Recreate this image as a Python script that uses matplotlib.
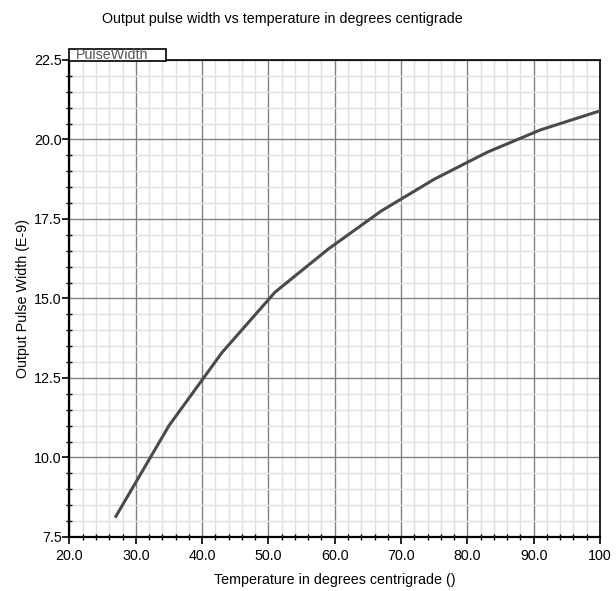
import numpy as np
import matplotlib
matplotlib.use("Agg")
import matplotlib.pyplot as plt
from matplotlib.patches import Rectangle
from matplotlib.ticker import MultipleLocator

plt.rcParams['font.family'] = ['Liberation Sans', 'DejaVu Sans']

# data
temperature = [27, 35, 43, 51, 59, 67, 75, 83, 91, 100]
pulse_width = [8.15, 11.0, 13.3, 15.2, 16.55, 17.75, 18.75, 19.6, 20.3, 20.9]

x_ticks = [20, 30, 40, 50, 60, 70, 80, 90, 100]
x_tick_labels = ['20.0', '30.0', '40.0', '50.0', '60.0', '70.0', '80.0', '90.0', '100']
y_ticks = [7.5, 10.0, 12.5, 15.0, 17.5, 20.0, 22.5]
y_tick_labels = ['7.5', '10.0', '12.5', '15.0', '17.5', '20.0', '22.5']

fs = 10.3

fig = plt.figure(figsize=(6.16, 5.91), dpi=100)
ax = fig.add_axes([0.1128, 0.0914, 0.974 - 0.1128, 0.8985 - 0.0914])

ax.plot(temperature, pulse_width, color='#4a4a4a', linewidth=2.2, zorder=3)

ax.set_xlim(20, 100)
ax.set_ylim(7.5, 22.5)
ax.set_xticks(x_ticks)
ax.set_xticklabels(x_tick_labels)
ax.set_yticks(y_ticks)
ax.set_yticklabels(y_tick_labels)
ax.xaxis.set_minor_locator(MultipleLocator(2))
ax.yaxis.set_minor_locator(MultipleLocator(0.5))

ax.grid(which='major', color='#808080', linewidth=1.0, zorder=1)
ax.grid(which='minor', color='#e0e0e0', linewidth=1.0, zorder=0)
ax.set_axisbelow(True)

ax.tick_params(which='major', direction='out', length=5, width=1.2,
               labelsize=fs, colors='black')
ax.tick_params(axis='x', which='major', pad=4)
ax.tick_params(axis='y', which='major', pad=0.5)
ax.tick_params(which='minor', direction='inout', length=4, width=1.0, colors='black')

for side in ['left', 'bottom']:
    ax.spines[side].set_linewidth(1.6)
for side in ['top', 'right']:
    ax.spines[side].set_linewidth(1.2)

ax.set_xlabel("Temperature in degrees centrigrade ()", fontsize=fs, labelpad=7)
ax.set_ylabel("Output Pulse Width (E-9)", fontsize=fs, labelpad=3)

fig.text(0.458, 0.968, "Output pulse width vs temperature in degrees centigrade",
         ha='center', va='center', fontsize=fs)

# series tab above the top-left corner
tab = Rectangle((0.0, 0.998), 0.182, 0.026, transform=ax.transAxes,
                facecolor='white', edgecolor='black', linewidth=1.2,
                clip_on=False, zorder=5)
ax.add_patch(tab)
ax.text(0.012, 1.0115, "PulseWidth", transform=ax.transAxes, fontsize=fs,
        color='#555555', va='center', ha='left', zorder=6, clip_on=False)

fig.savefig("out.png", dpi=100)
